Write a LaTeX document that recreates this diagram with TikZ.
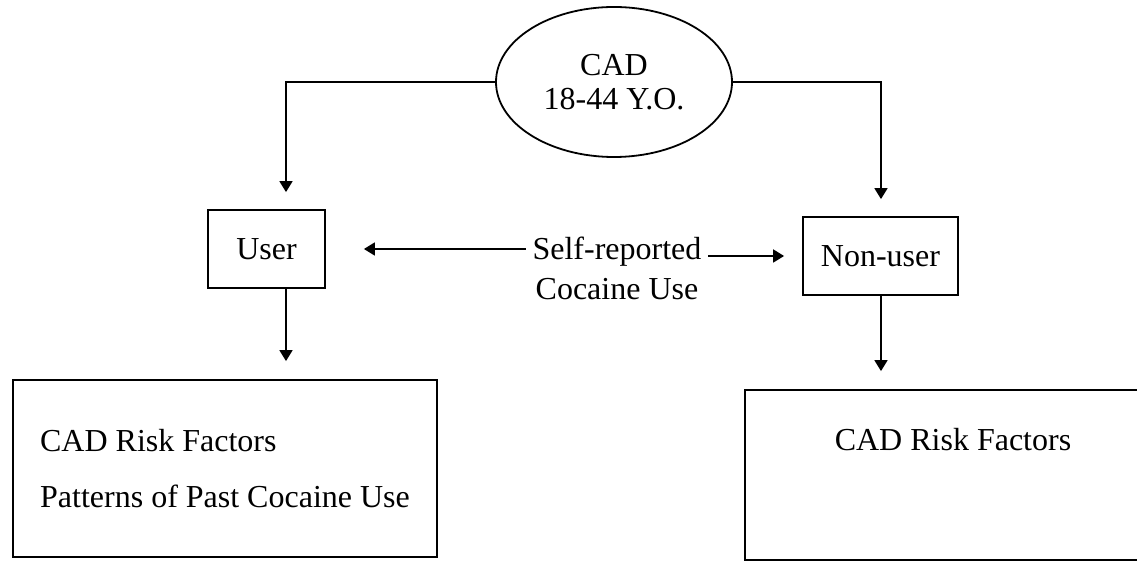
\documentclass[tikz,border=0pt]{standalone}
\usepackage{fontspec}
\setmainfont{Liberation Serif}
\usetikzlibrary{arrows.meta, positioning, shapes.geometric}

\begin{document}
\begin{tikzpicture}[
    x=0.5pt, y=-0.5pt,
    font=\fontsize{16}{17}\selectfont,
    flow/.style={
        line width=0.9pt,
        -{Triangle[length=5.5pt, width=6.5pt]},
    },
    cohort/.style={
        ellipse,
        draw,
        line width=0.9pt,
        minimum width=118pt,
        minimum height=75pt,
        inner sep=0pt,
        align=center,
    },
    group/.style={
        rectangle,
        draw,
        line width=0.9pt,
        minimum height=39pt,
        inner sep=0pt,
    },
    outcome/.style={
        rectangle,
        draw,
        line width=0.9pt,
        align=left,
        font=\fontsize{16}{28}\selectfont,
    }
]
    \useasboundingbox (0,0) rectangle (1137,566);

    % Cohort
    \node[cohort] (cad) at (614,82) {CAD\\18-44 Y.O.};

    % Groups
    \node[group, minimum width=58.5pt] (user) at (266.5,249) {User};
    \node[group, minimum width=77.5pt] (nonuser) at (880.5,256) {Non-user};
    \node[align=center, font=\fontsize{16}{20}\selectfont] (report) at (617,268) {Self-reported\\Cocaine Use};

    % Outcomes
    \node[outcome, minimum width=212pt, minimum height=88.5pt] (userout) at (225,468.5) {CAD Risk Factors\\Patterns of  Past Cocaine Use};
    \node[outcome, minimum width=207.5pt, minimum height=85pt] (nonuserout) at (952.5,475) {};
    \node (nonuserrisk) at (953,440) {CAD Risk Factors};

    % Connectors
    \coordinate (usercol) at (286,0);
    \coordinate (nonusercol) at (881,0);
    \draw[flow, shorten >=8.5pt] (cad.west) -| (user.north -| usercol);
    \draw[flow, shorten >=8.5pt] (cad.east) -| (nonuser.north -| nonusercol);
    \draw[flow, shorten >=19pt] (report.west |- user.east) -- (user.east);
    \draw[flow, shorten >=9pt] (report.east |- nonuser.west) -- (nonuser.west);
    \draw[flow, shorten >=9pt] (user.south -| usercol) -- (userout.north -| usercol);
    \draw[flow, shorten >=9pt] (nonuser.south -| nonusercol) -- (nonuserout.north -| nonusercol);
\end{tikzpicture}
\end{document}
